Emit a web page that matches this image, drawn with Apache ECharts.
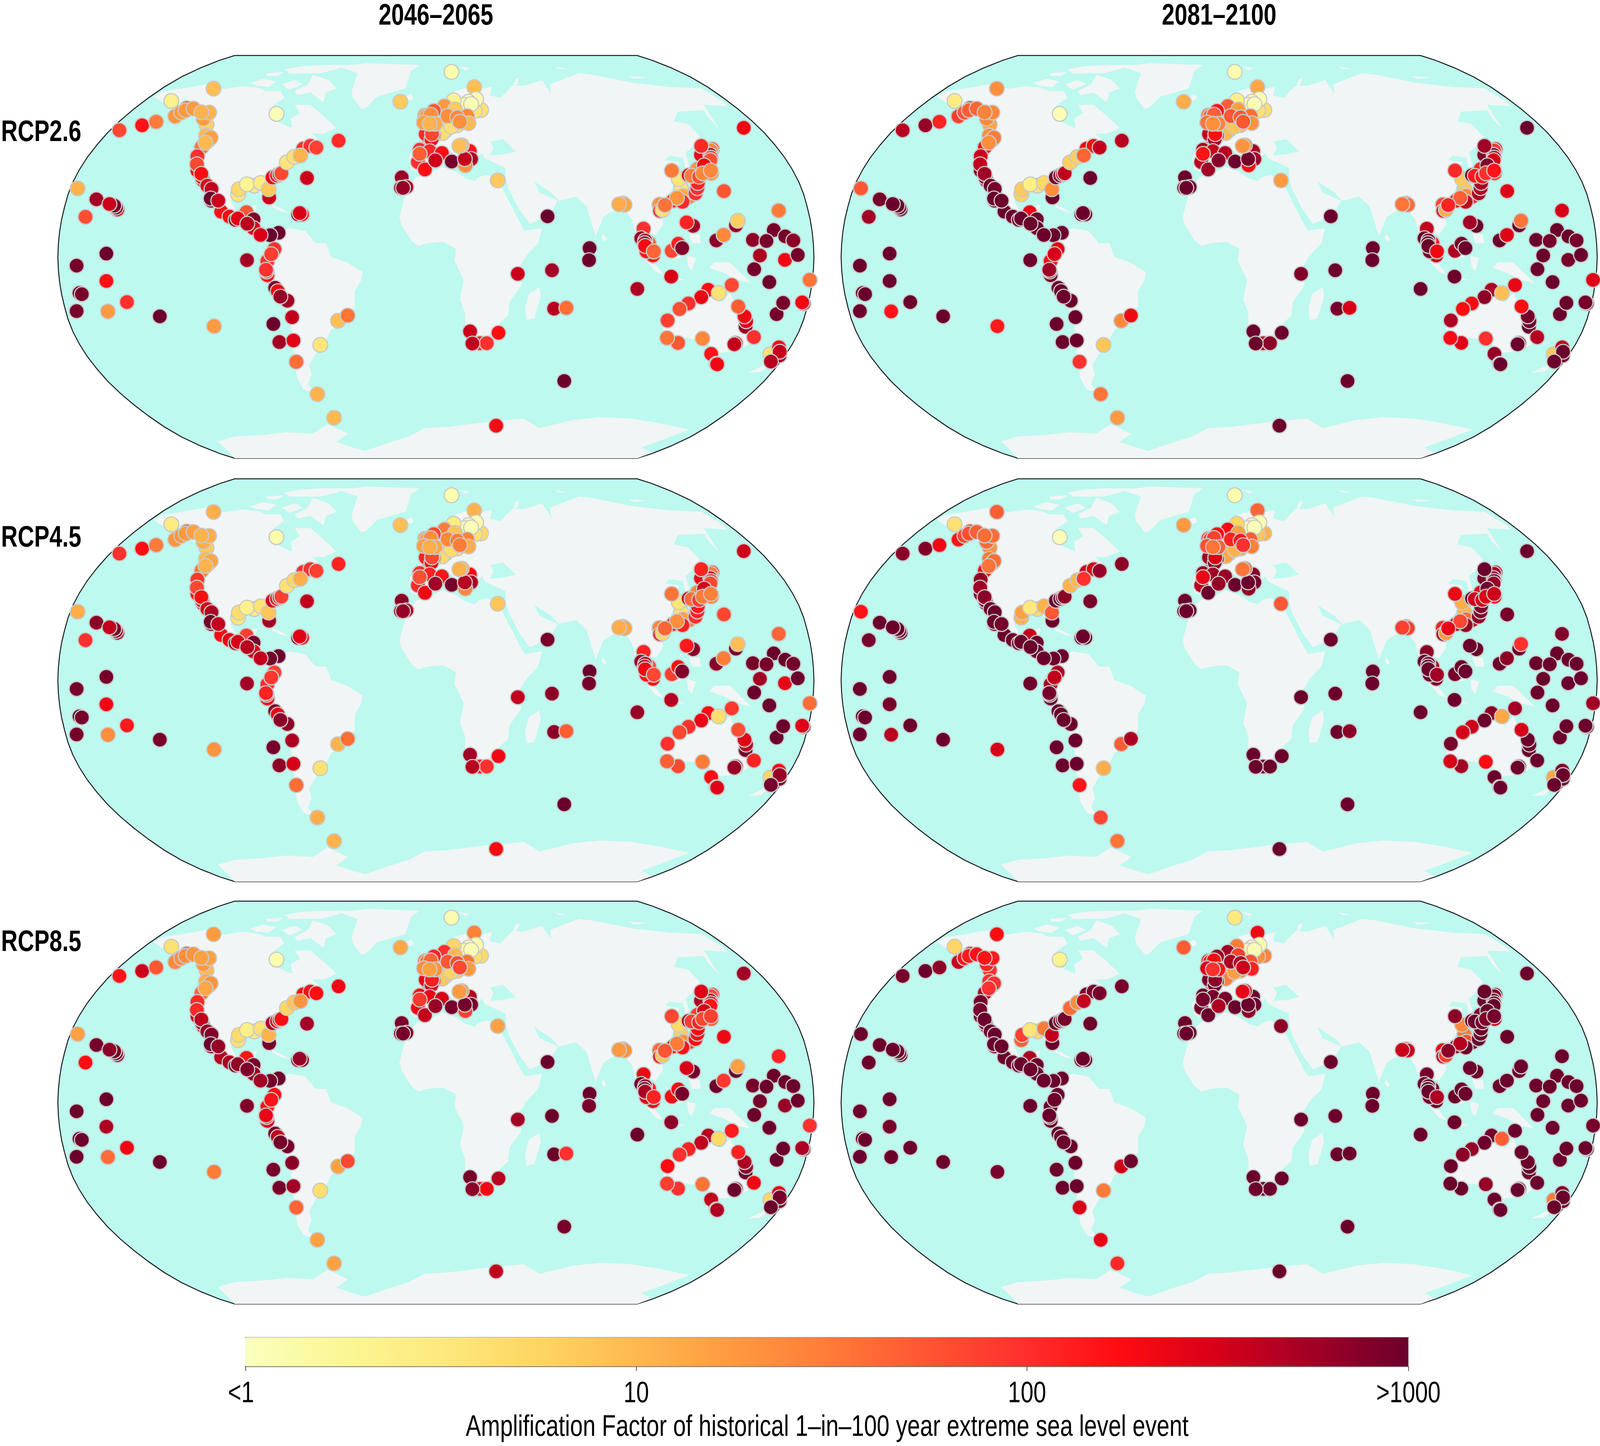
<!DOCTYPE html>
<html>
<head>
<meta charset="utf-8">
<title>Amplification factor maps</title>
<script src="https://cdn.jsdelivr.net/npm/echarts@6/dist/echarts.min.js"></script>
<style>
  body { margin: 0; background: #fff; overflow: hidden; }
  #main { height: 3701px; }
</style>
</head>
<body>
<div id="main"></div>
<script>
// Map coordinates are projected map units, origin at map centre.
// Site row: x, y, then log10 amplification for
// RCP2.6 mid, RCP2.6 late, RCP4.5 mid, RCP4.5 late, RCP8.5 mid, RCP8.5 late
const pacificSites = [
  [-1373,250,1.05,1.75,1.1,2.2,1.2,3],
  [-1301,210,2.75,2.95,2.85,3,2.95,3],
  [-1221,173,2.5,3,2.8,3,2.9,3],
  [-1226,180,2.95,3,2.9,3,2.95,3],
  [-1233,187,2.95,3,2.9,3,2.95,3],
  [-1251,193,2.55,3,2.6,3,2.85,3],
  [-1343,146,1.8,2.75,2,2.95,2.25,3],
  [-1263,12,3,3,2.95,3,3,3],
  [-1377,-32,2.95,3,2.95,3,3,3],
  [-1263,-88,2.25,3,2.35,2.95,2.7,2.95],
  [-1366,-132,3,3,3,3,3,3],
  [-1357,-136,2.95,3,2.95,3,3,3],
  [-1377,-198,2.95,3,2.95,3,3,3],
  [-1257,-199,1.25,2.2,1.35,2.65,1.6,3],
  [-1184,-165,2,3,2.15,3,2.35,3],
  [-1058,-217,3,3,2.95,3,3,3],
  [-850,-253,1.25,2.15,1.3,2.5,1.5,2.95],
];
const alaskaSites = [
  [-1213,462,1.85,2.65,2,2.85,2.2,2.95],
  [-1126,480,2.2,2.8,2.25,2.9,2.55,3],
  [-1072,493,1.5,2.1,1.5,2.35,1.75,2.85],
  [-1014,569,.35,.45,.45,.6,.6,.75],
  [-852,614,.95,1.35,1.1,1.7,1.25,2.25],
  [-999,513,1.3,1.9,1.3,2.2,1.4,2.6],
  [-955,543,1.75,1.9,1.7,1.9,1.75,2.2],
  [-976,527,1.25,1.75,1.3,1.85,1.35,2.2],
  [-959,535,1.25,1.7,1.25,1.8,1.35,2.15],
  [-929,541,1.25,1.65,1.2,1.7,1.3,2.2],
  [-879,483,.8,1.15,.85,1.3,1,2],
  [-891,505,1.25,1.4,1.1,1.6,1.25,2.1],
  [-869,527,1.05,1.4,1.1,1.6,1.2,2.15],
  [-899,528,1.05,1.45,1.05,1.6,1.2,2.2],
  [-881,443,1,1.35,1,1.5,1.1,2],
  [-871,427,1.35,1.8,1.35,1.75,1.5,2.1],
  [-863,435,1.2,1.5,1.15,1.6,1.3,2],
  [-898,400,1.55,2.2,1.55,2.25,1.65,2.7],
  [-883,417,1,1.35,1.05,1.55,1.15,2],
];
const pacificAmericaSites = [
  [-914,367,2,2.55,1.95,2.8,2.05,2.95],
  [-914,315,2.35,2.95,2.3,2.95,2.6,3],
  [-916,338,1.85,2.6,1.85,2.75,2.05,2.95],
  [-893,280,2.55,2.95,2.5,3,2.8,3],
  [-896,290,2.45,2.95,2.4,3,2.7,3],
  [-899,303,2.25,2.75,2.25,2.85,2.6,3],
  [-876,260,2.45,3,2.5,3,2.8,3],
  [-860,248,2.6,2.95,2.7,3,2.9,3],
  [-861,205,3,3,3,3,3,3],
  [-863,213,3,3,2.95,3,3,3],
  [-823,165,2.25,3,2.3,3,2.65,3],
  [-834,205,2.55,3,2.6,2.95,2.8,3],
  [-791,147,2.3,3,2.4,3,2.7,3],
  [-768,135,2.75,3,2.75,3,2.9,3],
  [-726,163,1.75,2.4,1.9,2.6,2.2,2.7],
  [-759,140,2.45,3,2.5,3,2.8,3],
  [-699,137,2.9,3,2.95,3,2.95,3],
  [-699,105,2.5,3,2.5,3,2.8,3],
  [-723,121,2.65,3,2.65,3,2.9,3],
  [-603,88,3,3,3,3,3,3],
  [-635,79,3,3,2.95,3,2.95,3],
  [-672,80,2.5,3,2.6,3,2.75,3],
  [-724,-12,2.75,3,2.75,3,2.9,3],
  [-619,28,2,2.45,1.9,2.7,2.25,3],
  [-646,-15,2,2.3,2,2.7,2.2,3],
  [-631,10,1.9,2.5,1.95,2.6,2.2,3],
  [-646,-67,2.2,2.95,2.3,3,2.5,3],
  [-649,-53,2.1,2.9,2.1,3,2.45,3],
  [-651,-47,2,2.75,2.1,2.95,2.4,3],
  [-616,-113,2.95,3,2.95,3,2.95,3],
  [-606,-125,2.35,3,2.4,3,2.6,3],
  [-569,-160,2.75,3,2.85,3,2.95,3],
  [-596,-145,2.8,3,2.85,3,2.95,3],
  [-623,-245,3,3,2.95,3,2.95,3],
  [-551,-220,2.6,3,2.7,3,2.85,3],
  [-600,-311,2.75,3,2.85,3,2.95,3],
  [-546,-305,2.45,3,2.5,3,2.75,3],
  [-535,-383,1.6,2,1.6,2.2,1.65,2.5],
  [-454,-501,1.05,1.55,1.1,1.85,1.2,2.4],
  [-390,-587,1,1.25,1.05,1.55,1.2,2.05],
];
const atlanticAmericaSites = [
  [-375,-233,.95,1.4,1.05,1.7,1.2,2.55],
  [-338,-214,1.55,2.35,1.6,2.7,1.85,3],
  [-443,-321,.55,.9,.6,1.1,.65,1.5],
  [-758,228,.55,.8,.55,1.05,.6,1.7],
  [-755,247,.7,.85,.65,1.2,.7,1.9],
  [-696,260,.45,.55,.45,.7,.5,.7],
  [-724,265,.3,.4,.35,.5,.4,.55],
  [-671,270,.45,.7,.6,1.05,.6,1.5],
  [-639,217,2.55,3,2.75,3,2.95,3],
  [-641,247,.85,1.35,.9,1.75,1.05,2.6],
  [-626,290,2.4,2.95,2.5,3,2.7,3],
  [-609,297,2.3,2.9,2.35,3,2.5,3],
  [-599,302,2.2,2.65,2.2,2.95,2.4,2.95],
  [-592,305,1.85,2.6,1.9,2.85,2.25,2.95],
  [-571,345,.55,.8,.6,1.05,.75,1.6],
  [-543,365,.6,.8,.75,1,.9,1.35],
  [-508,395,2,2.35,2,2.6,2.25,2.95],
  [-481,405,2,2.3,2,2.5,2.25,2.95],
  [-519,370,1.05,1.65,1.1,2,1.3,2.6],
  [-458,399,1.9,2.6,1.9,2.8,2.25,2.95],
  [-373,424,2.05,2.65,2.1,2.85,2.35,2.95],
  [-494,288,2.55,3,2.6,2.95,2.75,3],
  [-611,522,.05,.05,.1,.05,.1,.3],
  [-528,155,2.95,3,2.95,3,2.9,3],
  [-513,155,2.1,3,2.4,3,2.85,3],
  [-522,160,2.5,3,2.45,3,2.8,3],
];
const northAtlanticSites = [
  [-131,290,2.8,3,2.85,3,2.95,3],
  [-134,252,2.8,3,2.8,3,2.95,3],
  [-113,255,2.7,3,2.7,3,2.9,3],
  [-126,252,2.8,3,2.8,3,2.95,3],
  [-136,566,.85,1.1,.95,1.25,1.15,1.7],
  [60,675,.1,.1,.1,.1,.1,.5],
  [147,620,.95,1.15,1.05,1.65,1.45,2.35],
];
const europeSites = [
  [173,536,.6,.65,.7,1.05,.7,1.4],
  [149,533,.55,.6,.6,.9,.65,1.35],
  [147,571,.15,.1,.15,.1,.15,.1],
  [154,576,.1,.1,.1,.1,.1,.1],
  [125,566,.1,.1,.1,.15,.1,.1],
  [111,555,.1,.1,.1,.15,.1,.15],
  [135,557,.05,.05,.05,.05,.05,.05],
  [68,571,.3,.4,.45,.75,.75,1.5],
  [33,550,1.25,1.7,1.5,2.3,2,2.75],
  [-8,533,1.75,2.2,1.85,2.3,2.1,2.8],
  [73,538,.85,1.2,.9,1.2,1,1.9],
  [82,481,.6,.95,.65,1.15,.8,1.35],
  [37,462,.55,.85,.6,1.05,.75,1.4],
  [25,452,.65,1,.7,1.15,.85,1.45],
  [59,476,.6,.9,.65,1.05,.75,1.2],
  [45,514,1.35,1.75,1.4,2.1,1.75,2.7],
  [120,514,1.4,1.6,1.45,1.7,1.55,1.8],
  [125,488,1,1.3,1.1,1.45,1.25,2.1],
  [82,509,1.4,1.75,1.5,2.2,1.8,2.7],
  [92,493,1.35,1.75,1.5,2,1.85,2.55],
  [-27,433,1.3,2.2,1.4,2.4,1.85,2.7],
  [-8,443,1.35,2.1,1.45,2.3,1.8,2.6],
  [-39,448,2.05,2.6,2.1,2.75,2.4,2.95],
  [-17,429,2.3,2.75,2.35,2.9,2.5,3],
  [-15,448,1.85,2.25,1.85,2.5,2.15,2.85],
  [-41,517,1.3,1.7,1.3,2,1.6,2.4],
  [-34,514,1.25,1.65,1.25,1.9,1.6,2.3],
  [-20,519,1.35,1.7,1.35,1.9,1.65,2.3],
  [-3,486,1.1,1.45,1.15,1.7,1.3,2.2],
  [-46,490,1.2,1.55,1.2,1.8,1.35,2.5],
  [-24,486,1.05,1.35,1.1,1.55,1.2,2],
  [-62,391,2,2.7,2,2.8,2.25,3],
  [-24,386,2.05,2.55,2.1,2.75,2.4,2.95],
  [23,379,2.25,2.65,2.2,2.8,2.5,2.95],
  [-69,346,2,2.6,2.05,2.65,2.35,2.95],
  [-42,319,2.25,2.75,2.35,3,2.6,3],
  [-62,376,1.7,2.2,1.8,2.4,1.95,2.95],
  [-2,352,2.55,2.85,2.75,2.8,2.8,2.7],
  [61,348,2.95,3,2.95,3,2.95,3],
  [130,386,2.2,2.7,2.3,2.9,2.7,3],
  [135,357,2.7,2.75,2.7,2.95,2.95,3],
  [113,334,1.35,2.25,1.4,2.8,1.9,2.85],
  [111,357,2.6,2.95,2.65,3,2.95,3],
  [99,407,1,1.3,1.05,1.6,1.25,2.35],
  [90,405,.95,1.3,1.05,1.55,1.25,2.4],
  [237,279,.85,1.25,.9,1.75,1.2,2.85],
];
const indianOceanSites = [
  [428,148,3,3,2.95,3,3,3],
  [589,32,3,3,3,3,3,3],
  [587,-12,3,3,2.95,3,2.95,3],
  [314,-62,2.55,2.9,2.6,3,2.75,3],
  [445,-49,2.75,3,2.85,3,3,3],
  [453,-189,2.65,2.95,2.85,3,3,3],
  [500,-186,1.6,2.5,1.7,2.85,2,3],
  [131,-272,2.55,3,2.75,3,2.95,3],
  [169,-315,2.1,2.6,2.15,3,2.3,3],
  [195,-315,2,2.85,2,3,2.35,3],
  [140,-316,2.6,3,2.65,3,2.85,3],
  [240,-277,2.25,3,2.35,3,2.65,3],
  [492,-453,3,3,3,3,2.95,3],
  [231,-616,2.3,3,2.3,3,2.6,3],
  [717,195,.8,1.35,.9,1.9,1.1,2],
  [723,190,1.15,1.6,1.15,1.9,1.3,2.55],
  [702,192,1.1,1.55,1.1,1.9,1.25,2.55],
];
const eastAsiaSites = [
  [940,248,.55,.85,.6,1.05,.8,1.5],
  [931,284,.55,.85,.55,1.1,.7,1.4],
  [904,315,1.5,2.05,1.55,2.35,1.85,2.85],
  [971,220,1.4,2,1.5,2.6,1.8,2.95],
  [947,222,1.1,1.4,1.2,1.6,1.3,1.8],
  [857,191,1.3,1.85,1.4,2.1,1.6,2.4],
  [859,168,2,2.3,2.1,2.6,2.3,2.6],
  [869,172,.6,1.1,.7,1.25,.9,1.9],
  [909,205,2,2.4,2.05,2.7,2.2,2.9],
  [945,201,2.05,2.6,2.1,2.8,2.2,3],
  [924,215,1.3,1.7,1.35,1.85,1.5,2.65],
  [878,189,1.55,2.1,1.65,2.4,1.75,2.85],
  [995,232,2,2.7,2,2.85,2.25,3],
  [1002,251,2,2.7,2.1,2.9,2.3,3],
  [1004,270,2.1,2.75,2.15,2.9,2.3,3],
  [969,298,2.5,2.9,2.6,3,2.75,3],
  [1056,305,1.3,1.9,1.4,2.3,1.7,2.6],
  [1004,315,2.6,2.95,2.7,3,2.85,3],
  [1002,320,1.3,2.1,1.4,2.4,1.9,2.9],
  [1016,372,2.4,2.9,2.4,2.95,2.7,3],
  [1059,393,1.9,2.35,1.9,2.75,2.2,2.9],
  [1054,388,1.4,1.95,1.5,2.75,1.85,2.9],
  [1052,372,2.7,2.9,2.6,2.95,2.8,3],
  [1054,362,1.85,2.6,1.85,2.9,2.2,2.95],
  [1052,353,1.8,2.5,1.85,2.8,2.2,3],
  [1028,334,2.35,2.9,2.5,2.95,2.5,3],
  [980,296,1.5,2.15,1.6,2.55,1.9,3],
  [1009,293,1.8,2.2,1.9,2.5,2.1,2.95],
  [1023,305,1.4,2,1.5,2.45,1.85,2.9],
  [1054,315,1.4,2.2,1.45,2.55,1.9,2.95],
  [1017,405,2.05,2.75,2.1,3,2.45,3],
  [1104,240,1.75,2.45,1.85,2.95,2.35,3],
  [986,113,2.75,3,2.85,3,2.95,3],
  [961,126,2.1,2.75,2.15,3,2.5,3],
  [1150,115,2.8,3,2.95,3,3,3],
  [1157,132,.8,1.55,.95,2,1.2,3],
  [1075,60,2.85,3,2.85,3,3,3],
  [1103,80,1.4,2.45,1.5,2.85,1.95,3],
  [1180,471,2.35,3,2.55,3,2.75,3],
  [1314,169,1.5,2.5,1.65,2.9,2.1,3],
];
const sundaSites = [
  [796,103,2,2.6,2.1,2.85,2.35,2.95],
  [817,50,1.6,2.2,1.8,2.7,2.15,2.95],
  [832,5,2.2,2.55,2.25,2.95,2.4,3],
  [787,68,2.8,3,2.8,3,2.95,3],
  [802,60,2.65,2.95,2.7,3,2.85,3],
  [800,50,2.7,2.95,2.65,3,2.85,3],
  [807,20,2.2,2.95,2.2,3,2.5,3],
  [802,40,2.3,3,2.35,3,2.7,3],
  [835,20,1.65,2.35,1.85,2.75,2.1,2.7],
  [904,22,1.85,2.7,1.9,2.95,2.3,3],
  [929,48,2.1,2.95,2.25,3,2.35,3],
  [944,32,2.9,3,2.9,3,2.95,3],
  [902,-72,2.5,3,2.65,3,2.85,3],
  [772,-117,2.7,3,2.8,3,3,3],
];
const westPacificSites = [
  [1295,98,2.95,3,3,3,3,3],
  [1215,62,2.85,3,2.95,3,2.95,3],
  [1267,58,2.95,2.95,2.95,3,3,3],
  [1339,75,2.95,3,3,3,3,3],
  [1370,60,2.85,2.95,2.95,3,3,3],
  [1338,-11,2.35,2.95,2.4,3,2.8,3],
  [1387,7,2.95,3,3,3,3,3],
  [1242,5,2.7,3,2.75,3,2.95,3],
  [1220,-45,2.95,3,3,3,3,3],
  [1278,-92,3,3,3,3,3,3],
  [1433,-84,1.55,2.45,1.6,2.75,2,2.95],
  [1306,-209,2.95,3,3,3,3,3],
  [1331,-168,2.95,3,3,3,3,3],
  [1409,-170,2.7,2.95,2.9,3,2.95,3],
  [1404,-166,2.35,2.95,2.45,3,2.7,3],
];
const australiaSites = [
  [1044,-120,2.25,2.7,2.25,2.85,2.65,2.95],
  [1017,-147,2.4,2.85,2.4,3,2.6,3],
  [1134,-103,1.85,2.4,1.95,2.75,2.15,3],
  [1084,-132,.6,.95,.65,1.15,.7,1.7],
  [968,-170,2,2.3,2,2.55,2.1,2.8],
  [934,-190,1.8,2.25,1.85,2.5,2,2.85],
  [888,-232,1.9,2.7,2,2.95,2.25,3],
  [1187,-255,2.8,3,2.95,3,3,3],
  [1189,-235,2.5,3,2.65,3,2.85,3],
  [1183,-217,2.35,2.95,2.45,3,2.7,3],
  [1159,-181,1.7,2.25,1.8,2.5,2.1,3],
  [1219,-293,2,2.65,2.1,3,2.35,3],
  [928,-314,1.75,2.45,1.85,2.75,2,3],
  [886,-296,1.55,2.3,1.7,2.5,1.9,3],
  [1022,-298,1.4,2,1.5,2.25,1.55,2.8],
  [1149,-315,2.35,2.9,2.7,3,2.95,3],
  [1144,-319,2.6,3,2.8,3,3,3],
  [1055,-354,2.2,2.8,2.25,3,2.6,3],
  [1075,-390,2.3,2.8,2.3,3,2.6,3],
  [1078,-392,2.35,3,2.45,3,2.7,3],
  [1282,-355,.6,.85,.75,1.15,.75,1.5],
  [1315,-330,2.3,2.6,2.3,2.9,2.4,2.9],
  [1317,-360,2.8,2.95,2.9,3,2.95,3],
  [1318,-346,2.6,3,2.8,3,2.95,3],
  [1284,-382,2.65,3,2.95,3,3,3],
];

const columnTitles = ["2046–2065", "2081–2100"];
const rowTitles = ["RCP2.6", "RCP4.5", "RCP8.5"];
const colorTicks = ["<1", "10", "100", ">1000"];
const colorTickValues = [0, 1, 2, 2.976];
const colorName = "Amplification Factor of historical 1–in–100 year extreme sea level event";
const colorStops = ["#faffbe", "#fbf795", "#fde97e", "#fed664", "#ffb950", "#ff9a40", "#ff7c38",
  "#ff5633", "#ff302e", "#ff0c12", "#d80018", "#a20026", "#6b002c"];

// Land outlines, same map units
const northAmerica = [[-1081,585],[-1051,603],[-971,615],[-881,630],[-811,613],[-741,623],[-681,617],[-651,605],[-596,605],[-581,580],[-621,555],[-636,530],[-611,495],[-566,475],[-551,470],[-556,505],[-521,525],[-541,555],[-481,555],[-431,515],[-381,470],[-431,450],[-476,450],[-446,425],[-501,410],[-536,380],[-561,345],[-596,315],[-631,275],[-641,250],[-646,200],[-666,225],[-681,245],[-731,245],[-781,230],[-786,205],[-766,170],[-731,155],[-726,180],[-686,190],[-696,145],[-696,105],[-651,95],[-611,95],[-631,70],[-681,70],[-721,95],[-791,125],[-836,175],[-871,235],[-901,285],[-926,345],[-911,395],[-881,435],[-911,495],[-941,520],[-991,525],[-1031,505],[-1001,545],[-1051,565]];
const southAmerica = [[-603,90],[-561,105],[-501,95],[-461,50],[-421,50],[-401,0],[-341,-20],[-281,-55],[-286,-85],[-311,-125],[-311,-180],[-351,-245],[-401,-265],[-421,-305],[-461,-355],[-486,-395],[-476,-430],[-491,-465],[-461,-495],[-506,-485],[-531,-445],[-541,-385],[-551,-285],[-561,-215],[-611,-130],[-661,-65],[-671,-5],[-641,45],[-631,75]];
const greenland = [[-375,695],[-262,707],[-61,700],[-94,680],[-117,615],[-225,585],[-267,545],[-286,540],[-318,580],[-323,605],[-300,670]];
const africa = [[-74,291],[-22,305],[25,329],[78,310],[116,286],[149,277],[163,291],[196,300],[250,275],[255,250],[290,185],[322,125],[340,96],[407,105],[392,50],[347,5],[322,-35],[327,-105],[282,-165],[277,-215],[252,-235],[217,-275],[187,-295],[137,-305],[112,-255],[112,-205],[92,-155],[107,-85],[72,-15],[77,30],[27,55],[-33,50],[-68,40],[-94,60],[-131,115],[-140,145],[-126,195],[-108,255]];
const eurasia = [[-95,320],[-105,355],[-92,388],[-50,392],[-30,405],[-58,432],[-20,448],[10,470],[25,495],[-5,520],[-8,525],[20,565],[75,605],[125,620],[170,612],[215,622],[207,590],[247,580],[292,625],[340,625],[407,645],[442,595],[437,630],[547,670],[597,665],[757,635],[897,620],[1017,615],[1097,570],[1117,550],[1027,555],[1087,465],[1047,505],[1027,535],[927,530],[912,495],[967,485],[1012,440],[982,400],[957,381],[971,334],[959,315],[947,362],[895,369],[878,353],[933,346],[919,277],[895,225],[862,187],[871,120],[843,80],[792,95],[777,105],[837,5],[802,20],[767,75],[752,135],[712,185],[657,155],[642,145],[612,75],[577,185],[537,220],[472,205],[442,235],[377,275],[397,235],[467,205],[437,155],[360,120],[318,175],[278,250],[268,285],[267,325],[187,360],[177,380],[140,340],[120,375],[100,330],[60,385],[20,395],[-10,380],[-40,330],[-75,312]];
const australia = [[872,-245],[907,-200],[972,-165],[1027,-130],[1062,-155],[1097,-165],[1127,-130],[1162,-205],[1217,-285],[1207,-315],[1147,-345],[1087,-350],[1027,-305],[957,-295],[887,-320],[872,-285]];
const antarctica = [[-836,-673],[-771,-655],[-671,-650],[-571,-640],[-471,-645],[-416,-610],[-336,-645],[-381,-675],[-321,-695],[-271,-708],[-171,-675],[-103,-655],[-43,-625],[47,-620],[217,-600],[337,-590],[397,-625],[527,-595],[627,-585],[747,-590],[847,-605],[972,-630],[847,-675],[787,-695],[827,-715],[772,-735],[-771,-735],[-790,-715]];
const islands = [
  [[-115,585],[-95,595],[-84,578],[-100,570],[-113,575]],
  [[397,-110],[402,-145],[377,-225],[347,-230],[342,-185],[357,-135]],
  [[1062,-370],[1092,-375],[1077,-405]],
  [[1194,-423],[1247,-400],[1300,-365],[1320,-345],[1290,-385],[1245,-420]],
  [[1067,-20],[1127,-20],[1197,-85],[1207,-95],[1157,-85],[1107,-60],[1047,-40]],
  [[882,20],[937,70],[962,55],[957,5],[907,-10]],
  [[767,55],[857,-45],[872,-65],[842,-55],[777,20]],
  [[882,-70],[927,-75],[957,-85],[902,-85]],
  [[962,5],[997,-5],[982,-50],[967,-35]],
  [[967,95],[1012,80],[1015,50],[982,50]],
  [[1000,290],[1030,340],[1045,400],[1060,380],[1035,310],[980,270]],
  [[640,85],[655,65],[645,55],[635,70]],
  [[-55,470],[-20,500],[-15,460],[-45,445]],
  [[87,695],[130,690],[115,680]],
  [[295,620],[305,650],[365,670],[320,655],[312,630]],
  [[457,695],[507,685],[470,685]],
  [[737,660],[817,655],[760,650]],
  [[-711,635],[-661,650],[-611,640],[-641,620],[-691,625]],
  [[-651,670],[-581,675],[-606,660],[-646,660]],
  [[-541,605],[-491,630],[-471,665],[-411,645],[-381,615],[-421,600],[-431,565],[-481,600],[-531,590]],
  [[-581,685],[-521,695],[-441,700],[-331,700],[-381,685],[-441,670],[-501,670],[-561,670]],
  [[-591,630],[-541,645],[-511,630],[-561,610]],
  [[-631,192],[-600,180],[-561,160],[-590,165],[-625,180]],
  [[-545,155],[-515,150],[-520,140],[-548,145]],
];
const seas = [
  [[207,420],[257,430],[307,385],[262,375],[207,370],[222,400]],
];

const landShapes = [northAmerica, southAmerica, greenland, africa, eurasia, australia, antarctica].concat(islands);

// Robinson outline table
const robinsonX = [1,.9986,.9954,.99,.9822,.973,.96,.9427,.9216,.8962,.8679,.835,.7986,.7597,.7186,.6732,.6213,.5722,.5322];
const robinsonY = [0,.062,.124,.186,.248,.31,.372,.434,.4958,.5571,.6176,.6769,.7346,.7903,.8435,.8936,.9394,.9761,1];

const allSites = [pacificSites, alaskaSites, pacificAmericaSites, atlanticAmericaSites, northAtlanticSites,
  europeSites, indianOceanSites, eastAsiaSites, sundaSites, westPacificSites, australiaSites].flat();

const mapHalfW = 1449;
const mapHalfH = 735;
const last = robinsonX.length - 1;
const outline = [];
for (let i = last; i >= 0; i--) outline.push([robinsonX[i] * mapHalfW, robinsonY[i] * mapHalfH]);
for (let i = 1; i <= last; i++) outline.push([robinsonX[i] * mapHalfW, -robinsonY[i] * mapHalfH]);
for (let i = last; i >= 0; i--) outline.push([-robinsonX[i] * mapHalfW, -robinsonY[i] * mapHalfH]);
for (let i = 1; i <= last; i++) outline.push([-robinsonX[i] * mapHalfW, robinsonY[i] * mapHalfH]);

// The window can come out narrower than the 4302 px layout, so fit it across
const fitX = Math.min(1, window.innerWidth / 4302);
document.getElementById("main").style.width = 4302 * fitX + "px";

const colCenters = [1172, 3278];
const rowCenters = [657.5, 1741, 2822];
const panelW = 2033;
const panelH = 1031;
const plainFont = '76px "Liberation Sans"';
const boldFont = 'bold 76px "Liberation Sans"';
const narrow = 0.81 * fitX;

const polygonRenderer = (shapes, style) => (params, api) => ({
  type: "polygon",
  shape: { points: shapes[api.value(0)].map((p) => api.coord(p)) },
  style: style,
  silent: true,
});
const shapeData = (shapes) => shapes.map((s, i) => [i]);

// Real text squeezed to the narrow face of the original
const narrowText = (text, x, y, font, align) => ({
  type: "text", x: x * fitX, y: y, scaleX: narrow, silent: true,
  style: { text: text, x: 0, y: 0, font: font, fill: "#000", textAlign: align || "center", textVerticalAlign: "middle" },
});

let grids = [], xAxes = [], yAxes = [], series = [], scatterIndexes = [];

rowCenters.forEach((cy, r) => {
  colCenters.forEach((cx, c) => {
    let idx = grids.length;
    let valueCol = 2 + r * 2 + c;
    grids.push({ left: (cx - panelW / 2) * fitX, top: cy - panelH / 2, width: panelW * fitX, height: panelH });
    xAxes.push({ gridIndex: idx, type: "value", min: -mapHalfW, max: mapHalfW, show: false });
    yAxes.push({ gridIndex: idx, type: "value", min: -mapHalfH, max: mapHalfH, show: false });
    series.push({
      type: "custom", xAxisIndex: idx, yAxisIndex: idx, silent: true,
      renderItem: polygonRenderer([outline], { fill: "#bdf9ef", stroke: "#1a1a1a", lineWidth: 2.5 }),
      data: [[0]],
    });
    series.push({
      type: "custom", xAxisIndex: idx, yAxisIndex: idx, silent: true,
      renderItem: polygonRenderer(landShapes, { fill: "#f1f5f5" }),
      data: shapeData(landShapes),
    });
    series.push({
      type: "custom", xAxisIndex: idx, yAxisIndex: idx, silent: true,
      renderItem: polygonRenderer(seas, { fill: "#bdf9ef" }),
      data: shapeData(seas),
    });
    scatterIndexes.push(series.length);
    series.push({
      type: "scatter", xAxisIndex: idx, yAxisIndex: idx, silent: true, clip: false,
      symbol: "circle", symbolSize: 38,
      itemStyle: { borderColor: "#c9c9c9", borderWidth: 3, opacity: 1 },
      data: allSites.map((s) => [s[0], s[1], s[valueCol]]),
    });
  });
});

// colour bar axis
let barIndex = grids.length;
grids.push({ left: 660 * fitX, top: 3423, width: 3127 * fitX, height: 74 });
xAxes.push({
  gridIndex: barIndex, type: "value", min: 0, max: colorTickValues[3], position: "bottom",
  axisLine: { show: true, onZero: false, lineStyle: { color: "#777", width: 3 } },
  axisTick: { show: true, length: 12, customValues: colorTickValues, lineStyle: { color: "#555", width: 2 } },
  axisLabel: { show: false },
  splitLine: { show: false },
});
xAxes.push({
  gridIndex: barIndex, type: "value", min: 0, max: colorTickValues[3], position: "top",
  axisLine: { show: true, onZero: false, lineStyle: { color: "#999", width: 3 } },
  axisTick: { show: false }, axisLabel: { show: false }, splitLine: { show: false },
});
yAxes.push({ gridIndex: barIndex, type: "value", min: 0, max: 1, show: false });

let myChart = echarts.init(document.getElementById("main"), null, { renderer: "canvas" });
myChart.setOption({
  animation: false,
  backgroundColor: "#fff",
  grid: grids,
  xAxis: xAxes,
  yAxis: yAxes,
  visualMap: {
    type: "continuous", min: 0, max: 3, dimension: 2, seriesIndex: scatterIndexes,
    orient: "horizontal", left: 660 * fitX, top: 3423, itemWidth: 74, itemHeight: 3127 * fitX,
    padding: 0, calculable: false, text: null, showLabel: false, hoverLink: false, realtime: false,
    inRange: { color: colorStops },
  },
  series: series,
});

// text goes on after the layout so tick labels can follow the axis scale
let textItems = [];
columnTitles.forEach((t, i) => textItems.push(narrowText(t, colCenters[i], 42, boldFont)));
const rowTitleY = [340, 1378, 2413];
rowTitles.forEach((t, i) => textItems.push(narrowText(t, 3, rowTitleY[i], boldFont, "left")));
colorTicks.forEach((t, i) => {
  let px = myChart.convertToPixel({ xAxisIndex: xAxes.length - 2 }, colorTickValues[i]) / fitX;
  textItems.push(narrowText(t, i === 0 ? px - 12 : px, 3568, plainFont));
});
textItems.push(narrowText(colorName, 2224, 3654, plainFont));
myChart.setOption({ graphic: { elements: textItems } });
</script>
</body>
</html>
